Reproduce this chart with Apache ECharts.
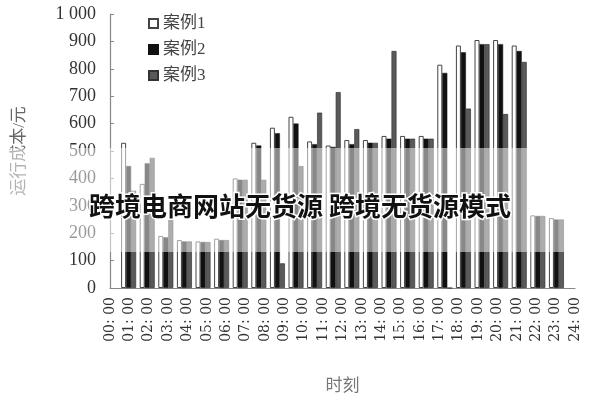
<!DOCTYPE html>
<html>
<head>
<meta charset="utf-8">
<script src="https://cdn.jsdelivr.net/npm/echarts@6/dist/echarts.min.js"></script>
<style>
  html, body { margin: 0; padding: 0; background: #fff; }
  #echart { width: 600px; height: 400px; }
</style>
</head>
<body>
<div id="echart"></div>
<script>
// 时刻刻度 00: 00 ... 24: 00
var hourLabels = ['00: 00', '01: 00', '02: 00', '03: 00', '04: 00', '05: 00', '06: 00', '07: 00',
    '08: 00', '09: 00', '10: 00', '11: 00', '12: 00', '13: 00', '14: 00', '15: 00', '16: 00',
    '17: 00', '18: 00', '19: 00', '20: 00', '21: 00', '22: 00', '23: 00', '24: 00'];
var seriesNames = ['案例1', '案例2', '案例3'];
var case1 = [530, 380, 190, 175, 170, 180, 400, 530, 585, 625, 535, 520, 540, 540, 555, 555, 555, 815, 885, 905, 905, 885, 265, 255];
var case2 = [445, 455, 185, 170, 168, 175, 395, 520, 565, 600, 525, 515, 525, 530, 545, 545, 545, 785, 860, 890, 890, 865, 263, 250];
var case3 = [355, 475, 250, 170, 168, 175, 395, 395, 90, 445, 640, 715, 580, 530, 865, 545, 545, 0, 655, 890, 635, 825, 263, 250];
var yTicks = [0, 100, 200, 300, 400, 500, 600, 700, 800, 900, 1000];
var watermark = '跨境电商网站无货源 跨境无货源模式';

var serif = '"Liberation Serif", "DejaVu Serif", "Noto Sans CJK SC", serif';

// 柱子放在两个刻度之间的槽位上, 槽位首尾留空
var slots = [];
for (var i = 0; i <= case1.length + 1; i++) slots.push('s' + i);
function pad(arr) { return [null].concat(arr, [null]); }

var myChart = echarts.init(document.getElementById('echart'));
var option = {
    animation: false,
    grid: { left: 110, right: 25, top: 14, bottom: 106 },
    legend: {
        orient: 'vertical',
        left: 143,
        top: 10,
        itemWidth: 9,
        itemHeight: 9,
        itemGap: 9,
        icon: 'rect',
        textStyle: { fontFamily: serif, fontSize: 17, color: '#444' },
        data: seriesNames
    },
    xAxis: [{
        type: 'category',
        data: hourLabels,
        boundaryGap: false,
        name: '时刻',
        nameLocation: 'middle',
        nameGap: 90,
        nameTextStyle: { fontFamily: serif, fontSize: 17, color: '#777' },
        axisLine: { lineStyle: { color: '#888', width: 1.2 } },
        axisTick: { show: false },
        axisLabel: {
            rotate: 90,
            interval: 0,
            margin: 9,
            fontFamily: '"DejaVu Serif", serif',
            fontSize: 14,
            color: '#333'
        }
    }, {
        type: 'category',
        data: slots,
        boundaryGap: false,
        show: false
    }],
    yAxis: {
        type: 'value',
        min: 0,
        max: 1000,
        interval: 100,
        name: '运行成本/元',
        nameLocation: 'middle',
        nameGap: 82,
        nameRotate: 90,
        nameTextStyle: { fontFamily: serif, fontSize: 17, color: '#666' },
        axisLine: { show: true, lineStyle: { color: '#888', width: 1.2 } },
        axisTick: { show: true, inside: true, length: 4, lineStyle: { color: '#888' } },
        splitLine: { show: false },
        axisLabel: {
            margin: 14,
            fontFamily: serif,
            fontSize: 18,
            color: '#333',
            customValues: yTicks,
            formatter: function (v) { return v === 1000 ? '1 000' : String(v); }
        }
    },
    series: [{
        name: seriesNames[0],
        type: 'bar',
        xAxisIndex: 1,
        barWidth: 5,
        barGap: '0%',
        data: pad(case1),
        itemStyle: { color: '#fff', borderColor: '#444', borderWidth: 1 }
    }, {
        name: seriesNames[1],
        type: 'bar',
        xAxisIndex: 1,
        barWidth: 5,
        barGap: '0%',
        data: pad(case2),
        itemStyle: { color: '#111', borderColor: '#111', borderWidth: 0.5 }
    }, {
        name: seriesNames[2],
        type: 'bar',
        xAxisIndex: 1,
        barWidth: 5,
        barGap: '0%',
        data: pad(case3),
        itemStyle: { color: '#5a5a5a', borderColor: '#333', borderWidth: 0.7 }
    }],
    graphic: [{
        type: 'rect',
        left: 0,
        top: 148,
        z: 100,
        shape: { width: 600, height: 104 },
        style: { fill: 'rgba(255,255,255,0.5)' }
    }, {
        type: 'text',
        left: 'center',
        top: 192,
        z: 101,
        style: {
            text: watermark,
            font: 'bold 26px "Noto Sans CJK SC"',
            fill: '#111',
            stroke: '#fff',
            lineWidth: 3
        }
    }]
};
myChart.setOption(option);
</script>
</body>
</html>
